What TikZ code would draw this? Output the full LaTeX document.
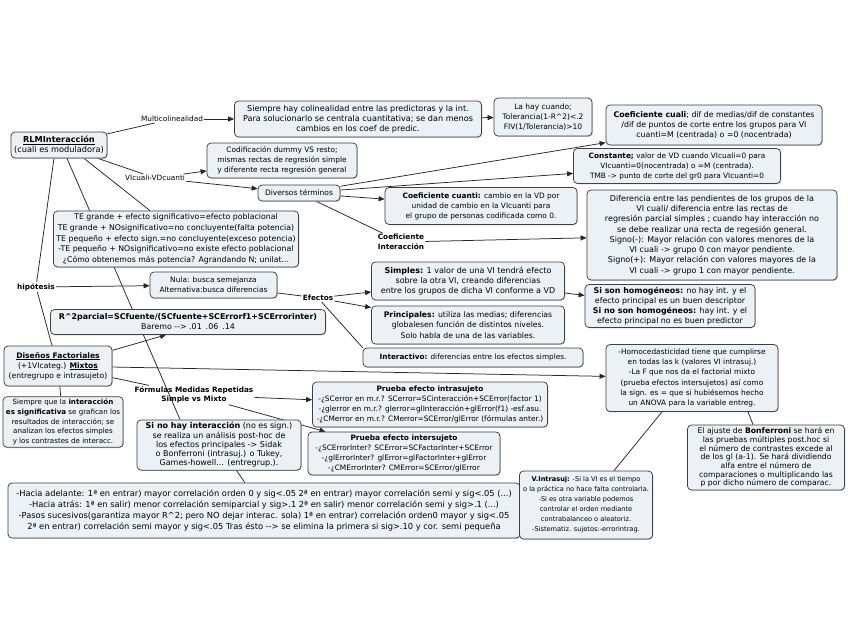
\documentclass[tikz,border=0pt]{standalone}
\usepackage{fontspec}
\setmainfont{DejaVu Sans}
\usetikzlibrary{arrows.meta,shadows}
\pgfdeclarelayer{bg}
\pgfsetlayers{bg,main}
\definecolor{boxfill}{HTML}{EBF1F5}
\definecolor{boxline}{HTML}{404040}
\newcommand\myfs[2]{\fontsize{#1}{#2}\selectfont}
\tikzset{
 box/.style={draw=boxline, line width=0.75pt, rounded corners=4pt, fill=boxfill, align=center,
   inner xsep=3pt, inner ysep=2.5pt, font=\myfs{7.5}{10.2},
   drop shadow={shadow xshift=0.8pt, shadow yshift=-0.8pt, opacity=0.4}},
 lbl/.style={align=center, inner sep=1pt, font=\myfs{7.3}{9.5}},
 conn/.style={draw=black!85, line width=0.75pt},
 arr/.style={conn, -{Triangle[length=6pt,width=5pt]}},
}
\begin{document}
\begin{tikzpicture}[x=1pt,y=-1pt]
\useasboundingbox (0,0) rectangle (848,638);
% ---------- nodes ----------
\node[box, font=\myfs{8.2}{10.2}, minimum width=96pt, minimum height=26pt] (rlm) at (59,145)
 {\textbf{\underline{RLMInteracción}}\\(cuali es moduladora)};
\node[lbl] (multi) at (172,119) {Multicolinealidad};
\node[box, font=\myfs{8.1}{10.2}, minimum width=247pt, minimum height=36pt] (siempre) at (358,119)
 {Siempre hay colinealidad entre las predictoras y la int.\\Para solucionarlo se centrala cuantitativa; se dan menos\\cambios en los coef de predic.};
\node[box, minimum width=98pt, minimum height=38pt] (lahay) at (543,117)
 {La hay cuando;\\Tolerancia(1-R\textasciicircum{}2)<.2\\FIV(1/Tolerancia)>10};
\node[box, font=\myfs{7.8}{10.2}, minimum width=216pt, minimum height=40pt] (cuali) at (714,125)
 {\textbf{Coeficiente cuali}; dif de medias/dif de constantes\\/dif de puntos de corte entre los grupos para VI\\cuanti=M (centrada) o =0 (nocentrada)};
\node[box, font=\myfs{7.35}{10}, minimum width=207pt, minimum height=35pt] (constante) at (677,166)
 {\textbf{Constante;} valor de VD cuando VIcuali=0 para\\VIcuanti=0(nocentrada) o =M (centrada).\\TMB -> punto de corte del gr0 para VIcuanti=0};
\node[box, font=\myfs{7.4}{10}, minimum width=150pt, minimum height=35pt] (codif) at (282,160.5)
 {Codificación dummy VS resto;\\mismas rectas de regresión simple\\y diferente recta regresión general};
\node[lbl] (vilabel) at (155,178) {VIcuali-VDcuanti};
\node[box, minimum width=82pt, minimum height=16pt] (diversos) at (299,193) {Diversos términos};
\node[box, font=\myfs{7.4}{10}, minimum width=192pt, minimum height=37pt] (cuanti) at (481,206)
 {\textbf{Coeficiente cuanti:} cambio en la VD por\\unidad de cambio en la VIcuanti para\\el grupo de personas codificada como 0.};
\node[lbl, align=left] (coefint) at (401,242) {\textbf{Coeficiente}\\\textbf{Interacción}};
\node[box, font=\myfs{8}{10.3}, minimum width=250pt, minimum height=90pt] (difer) at (712,235)
 {Diferencia entre las pendientes de los grupos de la\\VI cuali/ diferencia entre las rectas de\\regresión parcial simples ; cuando hay interacción no\\se debe realizar una recta de regesión general.\\Signo(-): Mayor relación con valores menores de la\\VI cuali -> grupo 0 con mayor pendiente.\\Signo(+): Mayor relación con valores mayores de la\\VI cuali -> grupo 1 con mayor pendiente.};
\node[box, font=\myfs{7.8}{10.6}, minimum width=215pt, minimum height=56pt] (te) at (176,239)
 {TE grande + efecto significativo=efecto poblacional\\TE grande + NOsignificativo=no concluyente(falta potencia)\\TE pequeño + efecto sign.=no concluyente(exceso potencia)\\-TE pequeño + NOsignificativo=no existe efecto poblacional\\¿Cómo obtenemos más potencia? Agrandando N; unilat...};
\node[lbl] (hipotesis) at (36,287) {\textbf{hipótesis}};
\node[box, font=\myfs{7.4}{10}, minimum width=127pt, minimum height=26pt] (nula) at (213.5,285)
 {Nula: busca semejanza\\Alternativa:busca diferencias};
\node[lbl] (efectos) at (318,298) {\textbf{Efectos}};
\node[box, font=\myfs{8}{10.2}, minimum width=193pt, minimum height=38pt] (simples) at (468,281)
 {\textbf{Simples:} 1 valor de una VI tendrá efecto\\sobre la otra VI, creando diferencias\\entre los grupos de dicha VI conforme a VD};
\node[box, font=\myfs{7.7}{10.2}, minimum width=193pt, minimum height=38pt] (principales) at (468,325)
 {\textbf{Principales:} utiliza las medias; diferencias\\globalesen función de distintos niveles.\\Solo habla de una de las variables.};
\node[box, font=\myfs{7.3}{10}, minimum width=220pt, minimum height=19pt] (interactivo) at (473,357.5)
 {\textbf{Interactivo:} diferencias entre los efectos simples.};
\node[box, font=\myfs{7.9}{10}, minimum width=170pt, minimum height=42pt] (homog) at (670,306)
 {\textbf{Si son homogéneos:} no hay int. y el\\efecto principal es un buen descriptor\\\textbf{Si no son homogéneos:} hay int. y el\\efecto principal no es buen predictor};
\node[box, font=\myfs{7.9}{10}, minimum width=275pt, minimum height=25pt] (r2) at (188,322)
 {\textbf{R\textasciicircum{}2parcial=SCfuente/(SCfuente+SCErrorf1+SCErrorinter)}\\Baremo -{}-> .01\enspace .06\enspace .14};
\node[box, font=\myfs{7.6}{10}, minimum width=108pt, minimum height=40pt] (disenos) at (58,366)
 {\textbf{\underline{Diseños Factoriales}}\\(+1VIcateg.) \textbf{\underline{Mixtos}}\\(entregrupo e intrasujeto)};
\node[box, font=\myfs{7.4}{10.2}, minimum width=172pt, minimum height=67pt] (homoc) at (692,378)
 {-Homocedasticidad tiene que cumplirse\\en todas las k (valores VI intrasuj.)\\-La F que nos da el factorial mixto\\(prueba efectos intersujetos) así como\\la sign. es = que si hubiésemos hecho\\un ANOVA para la variable entreg.};
\node[lbl] (formulas) at (194,395) {\textbf{Fórmulas Medidas Repetidas}\\\textbf{Simple vs Mixto}};
\node[box, font=\myfs{7.4}{10}, minimum width=235pt, minimum height=45pt] (intra) at (430,404.5)
 {\textbf{Prueba efecto intrasujeto}\\-¿SCerror en m.r.? SCerror=SCinteracción+SCError(factor 1)\\-¿glerror en m.r.? glerror=glInteracción+glError(f1) -esf.asu.\\-¿CMerror en m.r.? CMerror=SCError/glError (fórmulas anter.)};
\node[box, font=\myfs{7.4}{10}, minimum width=192pt, minimum height=43pt] (inter) at (404,453.5)
 {\textbf{Prueba efecto intersujeto}\\-¿SCErrorInter? SCError=SCFactorInter+SCError\\-¿glErrorInter? glError=glFactorInter+glError\\-¿CMErrorInter? CMError=SCError/glError};
\node[box, font=\myfs{7.1}{9.6}, minimum width=117pt, minimum height=50pt] (siempreint) at (63,422)
 {Siempre que la \textbf{interacción}\\\textbf{es significativa} se grafican los\\resultados de interacción; se\\analizan los efectos simples\\y los contrastes de interacc.};
\node[box, font=\myfs{8}{9.3}, minimum width=164pt, minimum height=42pt] (sinohay) at (219,445)
 {\textbf{Si no hay interacción} (no es sign.)\\se realiza un análisis post-hoc de\\los efectos principales -> Sidak\\o Bonferroni (intrasuj.) o Tukey,\\Games-howell... (entregrup.).};
\node[box, font=\myfs{8.3}{10.8}, minimum width=512pt, minimum height=55pt] (hacia) at (264,510.5)
 {-Hacia adelante: 1ª en entrar) mayor correlación orden 0 y sig<.05 2ª en entrar) mayor correlación semi y sig<.05 (...)\\-Hacia atrás: 1ª en salir) menor correlación semiparcial y sig>.1 2ª en salir) menor correlación semi y sig>.1 (...)\\-Pasos sucesivos(garantiza mayor R\textasciicircum{}2; pero NO dejar interac. sola) 1ª en entrar) correlación orden0 mayor y sig<.05\\2ª en entrar) correlación semi mayor y sig<.05 Tras ésto -{}-> se elimina la primera si sig>.10 y cor. semi pequeña};
\node[box, font=\myfs{6.6}{10}, minimum width=133pt, minimum height=68pt] (vintra) at (586,505)
 {\textbf{V.Intrasuj:} -Si la VI es el tiempo\\o la práctica no hace falta controlarla.\\-Si es otra variable podemos\\controlar el orden mediante\\contrabalanceo o aleatoriz.\\-Sistematiz. sujetos:-errorintrag.};
\node[box, font=\myfs{7.7}{8.7}, minimum width=157pt, minimum height=65pt] (bonf) at (766,457.5)
 {El ajuste de \textbf{Bonferroni} se hará en\\las pruebas múltiples post.hoc si\\el número de contrastes excede al\\de los gl (a-1). Se hará dividiendo\\alfa entre el número de\\comparaciones o multiplicando las\\p por dicho número de comparac.};
% ---------- connectors ----------
\begin{pgfonlayer}{bg}
\fill[white] (0,0) rectangle (848,638);
\draw[conn] (rlm) -- (multi);
\draw[arr] (multi) -- (siempre);
\draw[arr] (siempre) -- (lahay);
\draw[conn] (rlm) -- (vilabel);
\draw[arr] (vilabel) -- (codif);
\draw[arr] (vilabel) -- (diversos);
\draw[arr] (diversos) -- (cuali);
\draw[arr] (diversos) -- (constante);
\draw[arr] (diversos) -- (cuanti);
\draw[conn] (diversos) -- (coefint);
\draw[arr] (coefint) -- (difer);
\draw[conn] ([xshift=25pt]rlm.south) -- ([xshift=-26pt]te.north);
\draw[conn] ([xshift=8pt]rlm.south) -- ([xshift=-39pt]sinohay.north);
\draw[conn] ([xshift=-5pt]rlm.south) -- (hipotesis);
\draw[conn] (hipotesis) -- ([xshift=-6pt]disenos.north);
\draw[arr] (hipotesis) -- (nula);
\draw[conn] (nula) -- (efectos);
\draw[arr] (efectos) -- (simples);
\draw[arr] (efectos) -- (principales);
\draw[conn] (efectos) -- (interactivo.north west);
\draw[arr] (simples) -- (homog);
\draw[arr] (disenos) -- ([xshift=-22pt]r2.south);
\draw[arr] (disenos) -- (homoc);
\draw[conn] (disenos) -- (formulas);
\draw[arr] (formulas) -- (intra);
\draw[arr] (formulas) -- (inter);
\draw[conn] (disenos) -- (siempreint);
\draw[conn] (sinohay) -- (hacia);
\draw[conn] ([xshift=-30pt]homoc.south) -- (vintra);
\draw[conn] ([xshift=56pt]homoc.south) -- (bonf);
\end{pgfonlayer}
\end{tikzpicture}
\end{document}
